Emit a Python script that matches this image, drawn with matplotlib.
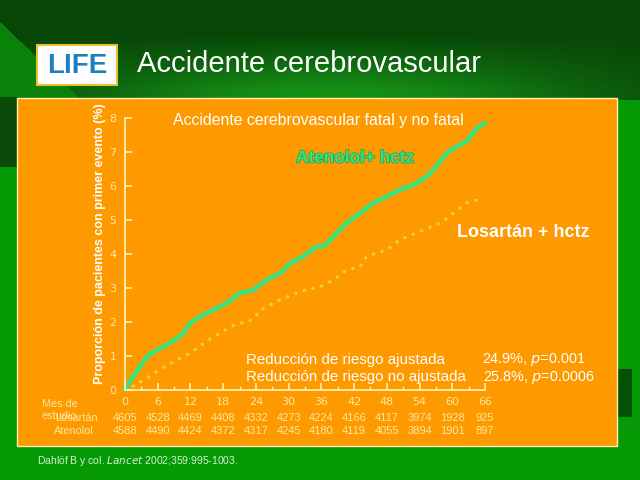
import numpy as np
import matplotlib
matplotlib.use("Agg")
import matplotlib.pyplot as plt
from matplotlib.patches import Rectangle
from matplotlib import patheffects as pe

# ---------------- data ----------------
aten_months = [0, 0.3, 1.5, 2.75, 4.0, 5.8, 7.6, 9.5, 10.7, 11.9, 13.75, 16.2, 18.6, 21.1, 23.5,
               26.0, 28.4, 30.3, 32.7, 35.1, 36.4, 38.2, 40.6, 43.1, 45.5, 48.0, 50.4, 52.9,
               55.3, 57.1, 59.0, 60.8, 62.6, 64.5, 66.0]
aten_vals = [0.0, 0.1, 0.4, 0.69, 0.98, 1.18, 1.32, 1.52, 1.67, 1.96, 2.16, 2.36, 2.55, 2.85, 2.94,
             3.24, 3.43, 3.73, 3.93, 4.22, 4.22, 4.51, 4.91, 5.2, 5.5, 5.69, 5.89, 6.03,
             6.28, 6.58, 6.97, 7.16, 7.31, 7.7, 7.85]
los_months = [0, 0.3, 3.4, 7.6, 11.9, 15.6, 19.9, 23.5, 24.8, 28.4, 32.1, 35.8, 38.2, 40.6, 43.1,
              44.3, 48.0, 50.4, 54.0, 57.8, 60.2, 62.6, 65.7]
los_vals = [0.0, 0.0, 0.29, 0.72, 1.08, 1.5, 1.9, 2.08, 2.35, 2.65, 2.9, 3.04, 3.24, 3.53, 3.63,
            3.93, 4.12, 4.42, 4.66, 4.91, 5.2, 5.5, 5.64]
tick_months = [0, 6, 12, 18, 24, 30, 36, 42, 48, 54, 60, 66]
risk_los = [4605, 4528, 4469, 4408, 4332, 4273, 4224, 4166, 4117, 3974, 1928, 925]
risk_ate = [4588, 4490, 4424, 4372, 4317, 4245, 4180, 4119, 4055, 3894, 1901, 897]

sans = 'Liberation Sans'
narrow = 'Liberation Sans'

W, H = 640, 480
fig = plt.figure(figsize=(6.4, 4.8), dpi=100)
fig.patch.set_facecolor('#069906')

def fx(x):
    return x / W

def fy(y):
    return 1 - y / H

# ---------------- background ----------------
bg = fig.add_axes([0, 0, 1, 1], zorder=-5)
bg.set_axis_off()
img = np.zeros((H, W, 3))
img[:] = np.array([6, 153, 6]) / 255.0
yy, xx = np.mgrid[0:H, 0:W]
top = yy < 100
dark = np.array([8, 70, 8]) / 255.0
mid = np.array([22, 145, 22]) / 255.0
t = np.clip((yy - 35) / 55.0, 0, 1)
glow = np.exp(-((xx - 330) / 260.0) ** 2)
w = (t * glow)[..., None]
col = dark[None, None, :] * (1 - w) + mid[None, None, :] * w
img[top] = col[top]
tri = (yy > 22 + xx * 0.95) & (yy < 100)
img[tri] = np.array([10, 130, 10]) / 255.0
img[97:167, 0:17] = np.array([10, 75, 10]) / 255.0
img[369:417, 618:632] = np.array([4, 80, 4]) / 255.0
bg.imshow(img, extent=[0, 1, 0, 1], aspect='auto', transform=fig.transFigure)

# orange panel
fig.patches.append(Rectangle((fx(17), fy(446)), fx(617) - fx(17), fy(98) - fy(446),
                             transform=fig.transFigure, facecolor='#fe9900',
                             edgecolor='#fff2b0', lw=1.0, zorder=-1))

# LIFE logo
fig.patches.append(Rectangle((fx(37), fy(85)), fx(80), fy(45) - fy(85),
                             transform=fig.transFigure, facecolor='white',
                             edgecolor='#e8c030', lw=1.5, zorder=1))
fig.text(fx(77), fy(66), 'LIFE', color='#1d7fc0', fontsize=20, fontweight='bold',
         family=sans, ha='center', va='center', zorder=2)

# title
fig.text(fx(137), fy(64), 'Accidente cerebrovascular', color='white', fontsize=21,
         family=sans, ha='left', va='center')

# ---------------- chart ----------------
ax = fig.add_axes([fx(125), fy(390), fx(485) - fx(125), fy(118) - fy(390)])
ax.set_facecolor('none')
ax.set_xlim(0, 66)
ax.set_ylim(0, 8)
for s in ['top', 'right']:
    ax.spines[s].set_visible(False)
spc = '#fff0b0'
for s in ['left', 'bottom']:
    ax.spines[s].set_color(spc)
    ax.spines[s].set_linewidth(1.3)
ax.set_xticks(tick_months)
ax.set_xticks(np.arange(3, 66, 6), minor=True)
ax.set_yticks(range(0, 9))
ax.tick_params(axis='both', which='both', direction='in', colors=spc, labelcolor='#fde7a0',
               labelsize=8)
ax.tick_params(axis='x', which='major', length=5, width=1.2, pad=5)
ax.tick_params(axis='x', which='minor', length=3, width=1.0)
ax.tick_params(axis='y', length=5, width=1.2, pad=6)

ax.plot(los_months, los_vals, color='#f5cf3a', lw=2.4, linestyle=(0, (0.1, 2.6)),
        dash_capstyle='round', clip_on=False)
ax.plot(aten_months, aten_vals, color='#3ee07a', lw=3.4, clip_on=False, solid_capstyle='round')

ax.set_ylabel('Proporción de pacientes con primer evento (%)', color='white', fontsize=9,
              fontweight='bold', family=sans)
ax.yaxis.set_label_coords(fx(91) - fx(125), 0.5 + (fy(244) - fy(254)) / (fy(118) - fy(390)))

fig.text(fx(173), fy(120), 'Accidente cerebrovascular fatal y no fatal', color='white',
         fontsize=11.4, family=sans, va='center')
fig.text(fx(296), fy(158), 'Atenolol+ hctz', color='#3ee07a', fontsize=12.4,
         fontweight='bold', family=sans, va='center',
         path_effects=[pe.withStroke(linewidth=1.2, foreground='#27a858')])
fig.text(fx(457), fy(232), 'Losartán + hctz', color='white', fontsize=12.9,
         fontweight='bold', family=sans, va='center')
fig.text(fx(246), fy(360), 'Reducción de riesgo ajustada', color='white', fontsize=10.9,
         family=sans, va='center')
fig.text(fx(246), fy(377), 'Reducción de riesgo no ajustada', color='white', fontsize=10.9,
         family=sans, va='center')
fig.text(fx(482), fy(360), '24.9%, $\\it{p}$=0.001', color='white', fontsize=10.4,
         family=sans, va='center')
fig.text(fx(483), fy(377), '25.8%, $\\it{p}$=0.0006', color='white', fontsize=10.4,
         family=sans, va='center')

# number at risk
tc = '#fde7a0'
fig.text(fx(42), fy(404), 'Mes de', color=tc, fontsize=7.8, family=sans, va='center')
fig.text(fx(42), fy(416), 'estudio', color=tc, fontsize=7.8, family=sans, va='center')
fig.text(fx(98), fy(418), 'Losartán', color=tc, fontsize=7.8, family=sans, va='center', ha='right')
fig.text(fx(94), fy(431), 'Atenolol', color=tc, fontsize=7.8, family=sans, va='center', ha='right')
for m, a, b in zip(tick_months, risk_los, risk_ate):
    ax.annotate(str(a), xy=(m, 0), xycoords='data', xytext=(0, -28), textcoords='offset pixels',
                color=tc, fontsize=8, family=sans, ha='center', va='center',
                annotation_clip=False)
    ax.annotate(str(b), xy=(m, 0), xycoords='data', xytext=(0, -41), textcoords='offset pixels',
                color=tc, fontsize=8, family=sans, ha='center', va='center',
                annotation_clip=False)

# citation
fig.text(fx(37), fy(461), 'Dahlöf B y col. $\\it{Lancet}$ 2002;359:995-1003.', color='#d8f0d0',
         fontsize=7.5, family=sans, va='center')

fig.savefig('out.png', dpi=100, facecolor=fig.get_facecolor())
